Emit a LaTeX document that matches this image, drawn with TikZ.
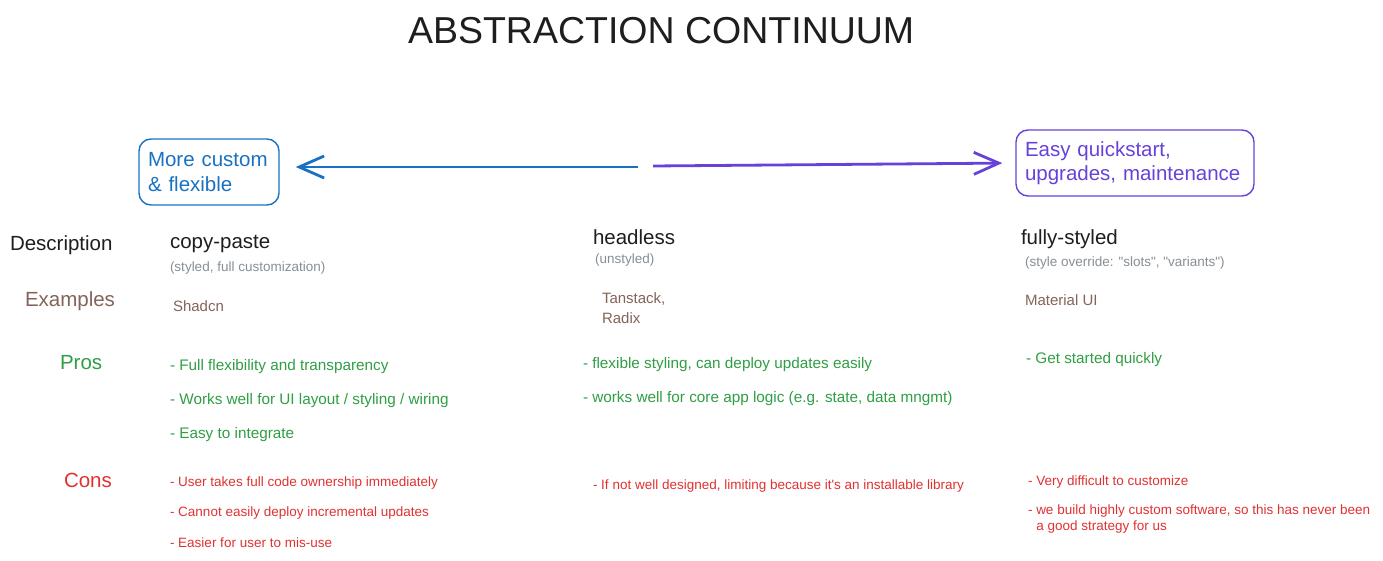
\documentclass[tikz,border=0pt]{standalone}
\usepackage{fontspec}
\setmainfont{Liberation Sans}[Ligatures=TeXOff]
\usetikzlibrary{arrows.meta}
\definecolor{cblue}{HTML}{1971C2}
\definecolor{cviolet}{HTML}{6741D9}
\definecolor{cgreen}{HTML}{2F9E44}
\definecolor{cred}{HTML}{E03131}
\definecolor{cbrown}{HTML}{846358}
\definecolor{cgrey}{HTML}{868E96}
\definecolor{cink}{HTML}{1E1E1E}
\tikzset{
 txt/.style={anchor=base west, inner sep=0pt, outer sep=0pt},
 titletxt/.style={txt, font=\fontsize{37.5}{44}\selectfont, text=cink},
 rowlabel/.style={txt, font=\fontsize{20.5}{24}\selectfont},
 head/.style={txt, font=\fontsize{20.5}{24}\selectfont, text=cink},
 note/.style={txt, font=\fontsize{13.5}{16}\selectfont, text=cgrey},
 example/.style={txt, font=\fontsize{15}{20.5}\selectfont, text=cbrown},
 pro/.style={txt, font=\fontsize{15.3}{18}\selectfont, text=cgreen},
 con/.style={txt, font=\fontsize{13.5}{16}\selectfont, text=cred},
 endbox/.style={draw, rounded corners=12pt, line width=1.4pt, minimum height=66pt, align=left, inner xsep=0pt, font=\fontsize{20.5}{24.5}\selectfont},
 barb/.style={line width=2.8pt, -{Straight Barb[length=25pt, width=22pt, line width=2.8pt]}}
}
\begin{document}
\begin{tikzpicture}[x=1pt,y=-1pt]
\useasboundingbox (0,0) rectangle (1383,561);
\node[titletxt] (title) at (408,44) {ABSTRACTION CONTINUUM};
\node[endbox, draw=cblue, text=cblue, minimum width=140pt, text width=122pt] (custom) at (209,172) {More custom\\\& flexible};
\node[endbox, draw=cviolet, text=cviolet, minimum width=238pt, text width=220pt] (easy) at (1135,163) {Easy quickstart,\\upgrades, maintenance};
\coordinate (midL) at (638,167);
\coordinate (midR) at (653,166);
\draw[barb, cblue, shorten >=16pt] (midL) -- (midL -| custom.east);
\draw[barb, cviolet, shorten >=13pt] (midR) -- (easy.west);
% row labels
\node[rowlabel, text=cink] (lDesc) at (10,251) {Description};
\node[rowlabel, text=cbrown] (lEx) at (25,306) {Examples};
\node[rowlabel, text=cgreen] (lPros) at (60,369) {Pros};
\node[rowlabel, text=cred] (lCons) at (64,487) {Cons};
% column 1
\node[head] (h1) at (170,249) {copy-paste};
\node[note] (n1) at (170,272) {(styled, full customization)};
\node[example] (e1) at (173,311) {Shadcn};
\node[pro] (p1a) at (170,370) {- Full flexibility and transparency};
\node[pro] (p1b) at (170,404) {- Works well for UI layout / styling / wiring};
\node[pro] (p1c) at (170,438) {- Easy to integrate};
\node[con] (c1a) at (170,486) {- User takes full code ownership immediately};
\node[con] (c1b) at (170,516) {- Cannot easily deploy incremental updates};
\node[con] (c1c) at (170,547) {- Easier for user to mis-use};
% column 2
\node[head] (h2) at (593,245) {headless};
\node[note] (n2) at (595,264) {(unstyled)};
\node[example, anchor=west, align=left] (e2) at (602,308) {Tanstack,\\Radix};
\node[pro] (p2a) at (583,368) {- flexible styling, can deploy updates easily};
\node[pro] (p2b) at (583,402) {- works well for core app logic (e.g. state, data mngmt)};
\node[con] (c2a) at (593,489) {- If not well designed, limiting because it's an installable library};
% column 3
\node[head] (h3) at (1021,245) {fully-styled};
\node[note] (n3) at (1025,266) {(style override: "slots", "variants")};
\node[example] (e3) at (1025,305) {Material UI};
\node[pro] (p3a) at (1026,363) {- Get started quickly};
\node[con] (c3a) at (1028,485) {- Very difficult to customize};
\node[con, anchor=west, align=left] (c3b) at (1028,519) {- we build highly custom software, so this has never been\\\hphantom{- }a good strategy for us};
\end{tikzpicture}
\end{document}
